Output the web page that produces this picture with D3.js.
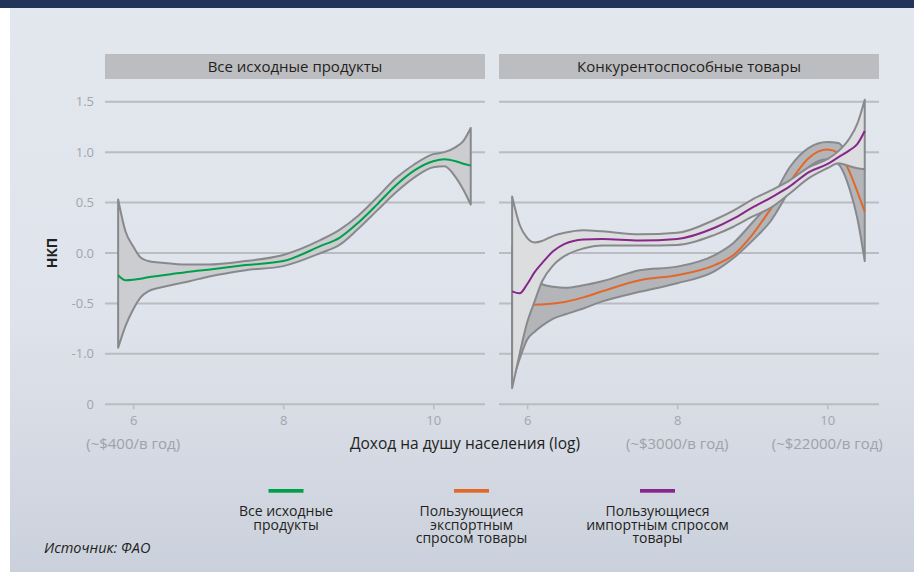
<!DOCTYPE html>
<html>
<head>
<meta charset="utf-8">
<script src="https://cdn.jsdelivr.net/npm/d3@7"></script>
<style>
  body { margin: 0; background: #fff; }
  svg { display: block; font-family: "Open Sans", "Noto Sans", sans-serif; }
</style>
</head>
<body>
<svg width="914" height="572"></svg>
<script>
const income = [5.8, 5.9, 6.0, 6.1, 6.2, 6.35, 6.5, 6.75, 7.0, 7.5, 8.0, 8.5, 8.75, 9.0, 9.25, 9.5, 9.75, 10.0, 10.15, 10.3, 10.4, 10.5];

// all products (left panel)
const allMean  = [-0.22, -0.27, -0.265, -0.255, -0.24, -0.225, -0.21, -0.185, -0.165, -0.12, -0.08, 0.07, 0.15, 0.30, 0.48, 0.67, 0.82, 0.91, 0.93, 0.91, 0.885, 0.866];
const allUpper = [0.53, 0.21, 0.066, -0.045, -0.08, -0.095, -0.105, -0.115, -0.115, -0.08, -0.02, 0.13, 0.23, 0.37, 0.55, 0.74, 0.88, 0.98, 1.0, 1.05, 1.11, 1.24];
const allLower = [-0.94, -0.72, -0.56, -0.44, -0.38, -0.345, -0.32, -0.28, -0.235, -0.17, -0.13, 0.0, 0.08, 0.24, 0.42, 0.60, 0.75, 0.85, 0.86, 0.75, 0.63, 0.48];

// export-demand goods (right panel, orange)
const expMean  = [-0.6, -0.56, -0.53, -0.513, -0.51, -0.5, -0.485, -0.44, -0.38, -0.27, -0.22, -0.12, -0.02, 0.18, 0.44, 0.70, 0.94, 1.025, 0.99, 0.80, 0.61, 0.41];
const expUpper = [0.06, -0.05, -0.15, -0.25, -0.31, -0.335, -0.345, -0.32, -0.28, -0.17, -0.135, -0.02, 0.10, 0.30, 0.52, 0.85, 1.04, 1.10, 1.09, 0.94, 0.88, 0.83];
const expLower = [-1.29, -1.05, -0.86, -0.78, -0.72, -0.65, -0.61, -0.55, -0.48, -0.385, -0.3, -0.18, -0.05, 0.12, 0.32, 0.62, 0.85, 0.93, 0.88, 0.63, 0.35, -0.08];

// import-demand goods (right panel, purple)
const impMean  = [-0.38, -0.4, -0.31, -0.19, -0.1, 0.02, 0.09, 0.135, 0.14, 0.125, 0.14, 0.25, 0.34, 0.45, 0.55, 0.66, 0.80, 0.88, 0.95, 1.02, 1.08, 1.21];
const impUpper = [0.56, 0.28, 0.15, 0.105, 0.12, 0.17, 0.2, 0.225, 0.215, 0.185, 0.2, 0.33, 0.42, 0.53, 0.62, 0.72, 0.85, 0.93, 1.01, 1.14, 1.28, 1.52];
const impLower = [-1.34, -1.0, -0.69, -0.48, -0.28, -0.12, -0.03, 0.045, 0.075, 0.075, 0.08, 0.18, 0.26, 0.36, 0.45, 0.59, 0.74, 0.84, 0.89, 0.86, 0.84, 0.83];

const yTicks = [1.5, 1.0, 0.5, 0.0, -0.5, -1.0, -1.5];
const yTickLabels = ["1.5", "1.0", "0.5", "0.0", "-0.5", "-1.0", "0"];
const xTicks = [6, 8, 10];
const panelTitles = ["Все исходные продукты", "Конкурентоспособные товары"];
const incomeNotes = [
  { panel: 0, at: 6, text: "(~$400/в год)" },
  { panel: 1, at: 8, text: "(~$3000/в год)" },
  { panel: 1, at: 10, text: "(~$22000/в год)" }
];
const legendNames = [["Все исходные", "продукты"], ["Пользующиеся", "экспортным", "спросом товары"], ["Пользующиеся", "импортным спросом", "товары"]];
const legendColors = ["#00a04b", "#e2672a", "#86278b"];

const svg = d3.select("svg");

// background
const defs = svg.append("defs");
const grad = defs.append("linearGradient").attr("id", "bg").attr("x1", 0).attr("y1", 0).attr("x2", 0).attr("y2", 1);
grad.append("stop").attr("offset", "0%").attr("stop-color", "#e3e7ee");
grad.append("stop").attr("offset", "55%").attr("stop-color", "#dfe3eb");
grad.append("stop").attr("offset", "100%").attr("stop-color", "#cbd1dc");
svg.append("rect").attr("x", 10).attr("y", 0).attr("width", 904).attr("height", 572).attr("fill", "url(#bg)");
svg.append("rect").attr("x", 0).attr("y", 0).attr("width", 914).attr("height", 8).attr("fill", "#22345a");

const panels = [{ x0: 105, x1: 485 }, { x0: 499, x1: 879 }];
const y = d3.scaleLinear().domain([-1.5, 1.5]).range([404.3, 101.7]);

panels.forEach((p, i) => {
  p.x = d3.scaleLinear().domain([5.625, 10.69]).range([p.x0, p.x1]);
  const g = svg.append("g");

  // header strip
  g.append("rect").attr("x", p.x0).attr("y", 54).attr("width", p.x1 - p.x0).attr("height", 25).attr("fill", "#bcbdc0");
  g.append("text").attr("x", (p.x0 + p.x1) / 2).attr("y", 71.5)
    .attr("text-anchor", "middle").attr("font-size", 15).attr("fill", "#231f20")
    .text(panelTitles[i]);

  // gridlines
  g.selectAll(".grid").data(yTicks).enter().append("line")
    .attr("x1", p.x0).attr("x2", p.x1)
    .attr("y1", d => y(d)).attr("y2", d => y(d))
    .attr("stroke", "#b9bcc1").attr("stroke-width", 2);

  // x axis ticks
  const xAxis = g.append("g").attr("transform", "translate(0," + y(-1.5) + ")")
    .call(d3.axisBottom(p.x).tickValues(xTicks).tickSize(5).tickPadding(6).tickFormat(d3.format("d")));
  xAxis.select(".domain").remove();
  xAxis.selectAll("line").attr("stroke", "#b9bcc1").attr("stroke-width", 1.5);
  xAxis.selectAll("text").attr("fill", "#a2a6ac").attr("font-size", 13)
    .attr("font-family", "\"Open Sans\", \"Noto Sans\", sans-serif");
});

// y tick labels (left panel only)
svg.append("g").selectAll("text").data(yTicks).enter().append("text")
  .attr("x", 94).attr("y", d => y(d) + 4.5)
  .attr("text-anchor", "end").attr("font-size", 13).attr("fill", "#a2a6ac")
  .text((d, i) => yTickLabels[i]);

svg.append("text").attr("transform", "translate(57,253) rotate(-90)")
  .attr("text-anchor", "middle").attr("font-size", 14).attr("font-weight", "bold").attr("fill", "#231f20")
  .text("НКП");

// income notes and axis title
svg.append("g").selectAll("text").data(incomeNotes).enter().append("text")
  .attr("x", d => panels[d.panel].x(d.at)).attr("y", 449)
  .attr("text-anchor", "middle").attr("font-size", 15).attr("fill", "#9ea2a9")
  .text(d => d.text);
svg.append("text").attr("x", 465).attr("y", 449).attr("text-anchor", "middle")
  .attr("font-size", 15.5).attr("fill", "#231f20").text("Доход на душу населения (log)");

// bands and lines
function drawSeries(p, mean, upper, lower, fill, color) {
  const rows = income.map((v, i) => ({ v: v, m: mean[i], hi: upper[i], lo: lower[i] }));
  const area = d3.area().x(d => p.x(d.v)).y0(d => y(d.lo)).y1(d => y(d.hi)).curve(d3.curveMonotoneX);
  const line = d3.line().x(d => p.x(d.v)).y(d => y(d.m)).curve(d3.curveMonotoneX);
  svg.append("path").datum(rows).attr("d", area)
    .attr("fill", fill).attr("stroke", "#88898c").attr("stroke-width", 2).attr("stroke-linejoin", "round");
  svg.append("path").datum(rows).attr("d", line)
    .attr("fill", "none").attr("stroke", color).attr("stroke-width", 2);
}

drawSeries(panels[0], allMean, allUpper, allLower, "#cccdd0", legendColors[0]);
drawSeries(panels[1], expMean, expUpper, expLower, "#b3b5b9", legendColors[1]);
drawSeries(panels[1], impMean, impUpper, impLower, "#dcdddf", legendColors[2]);

// legend
const legendX = [286, 471.5, 657.5];
const legend = svg.append("g").selectAll("g").data(legendNames).enter().append("g")
  .attr("transform", (d, i) => "translate(" + legendX[i] + ",0)");
legend.append("rect").attr("x", -17.5).attr("y", 489).attr("width", 35).attr("height", 3.7)
  .attr("fill", (d, i) => legendColors[i]);
legend.each(function (lines) {
  d3.select(this).selectAll("text").data(lines).enter().append("text")
    .attr("x", 0).attr("y", (d, j) => 516 + j * 13.5)
    .attr("text-anchor", "middle").attr("font-size", 14).attr("fill", "#231f20")
    .text(d => d);
});

svg.append("text").attr("x", 44).attr("y", 553).attr("font-size", 14.5).attr("font-style", "italic")
  .attr("fill", "#231f20").text("Источник: ФАО");
</script>
</body>
</html>
